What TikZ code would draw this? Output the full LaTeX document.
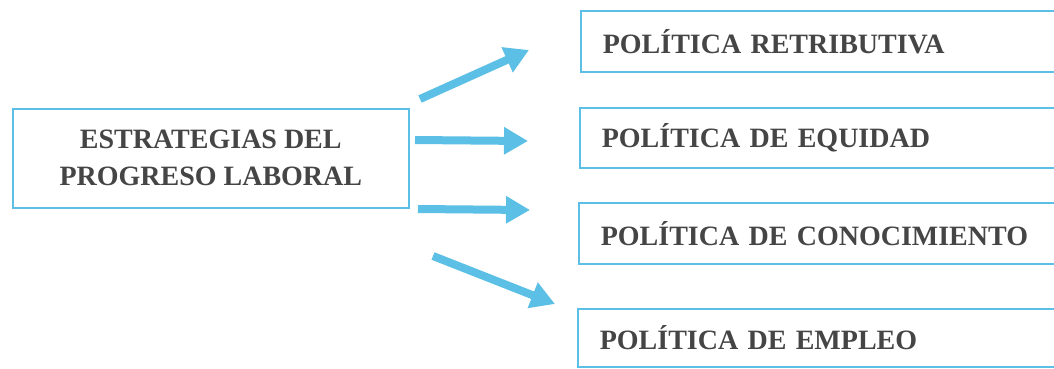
\documentclass[tikz,border=0pt]{standalone}
\usepackage{fontspec}
\setmainfont{Liberation Serif}
\usetikzlibrary{arrows.meta}
\definecolor{lb}{HTML}{5CC0E6}
\definecolor{tx}{HTML}{454545}
\tikzset{
  box/.style={draw=lb, line width=1.6pt, rectangle, inner sep=0pt, text=tx, font=\fontsize{28}{37}\selectfont\bfseries},
  rbox/.style={box, anchor=north west, text width=436pt, inner xsep=22pt, align=left, minimum width=480pt},
  bluearrow/.style={draw=lb, line width=8pt, -{Triangle[length=24pt,width=26pt]}}
}
\begin{document}
\begin{tikzpicture}[x=1pt,y=1pt]
\useasboundingbox (0,0) rectangle (1054,-368);
\clip (0,0) rectangle (1054,-368);
\fill[white] (0,0) rectangle (1054,-368);
\node[box, anchor=north west, minimum width=396pt, minimum height=99pt, align=center] (main) at (12,-108) {ESTRATEGIAS DEL\\PROGRESO LABORAL};
\node[rbox, minimum height=61pt] (r1) at (580,-10) {POLÍTICA RETRIBUTIVA};
\node[rbox, minimum height=60pt] (r2) at (579,-107) {POLÍTICA DE EQUIDAD};
\node[rbox, minimum height=61pt] (r3) at (578,-202) {POLÍTICA DE CONOCIMIENTO};
\node[rbox, minimum height=58pt] (r4) at (577,-308) {POLÍTICA DE EMPLEO};
\coordinate (a1s) at (420,-99);
\coordinate (a1e) at (529,-50);
\coordinate (a2s) at (415,-140);
\coordinate (a2e) at (528,-141);
\coordinate (a3s) at (418,-209);
\coordinate (a3e) at (530,-210);
\coordinate (a4s) at (433,-256);
\coordinate (a4e) at (555,-304);
\draw[bluearrow] (a1s) -- (a1e);
\draw[bluearrow] (a2s) -- (a2e);
\draw[bluearrow] (a3s) -- (a3e);
\draw[bluearrow] (a4s) -- (a4e);
\end{tikzpicture}
\end{document}
